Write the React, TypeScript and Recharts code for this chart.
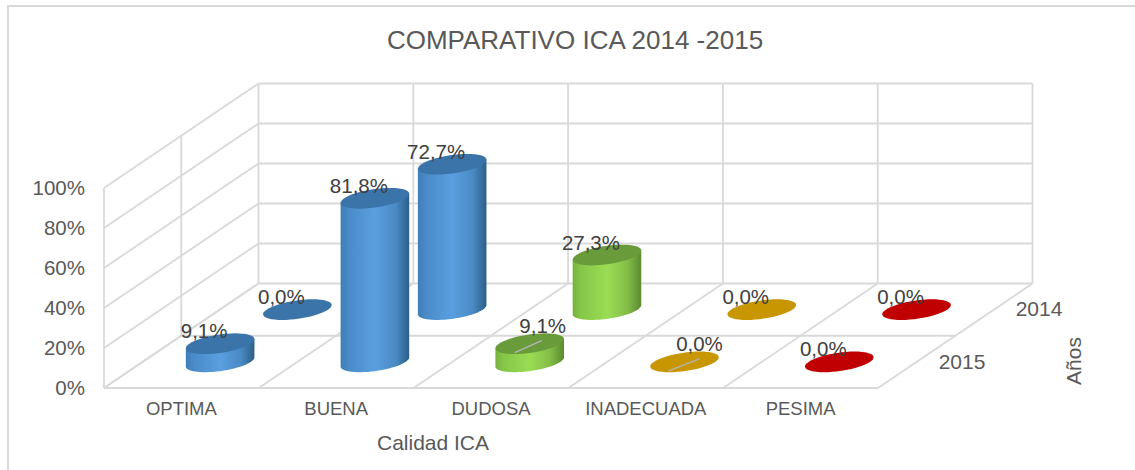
import React from 'react';
import { BarChart, Bar, XAxis, YAxis, CartesianGrid, LabelList, Customized } from 'recharts';

const categories = ['OPTIMA', 'BUENA', 'DUDOSA', 'INADECUADA', 'PESIMA'];
const values2015 = [9.1, 81.8, 9.1, 0, 0];
const values2014 = [0, 72.7, 27.3, 0, 0];
const yTicks = [0, 20, 40, 60, 80, 100];
const sideGradients = ['sideBlue', 'sideBlue', 'sideGreen', 'sideGold', 'sideRed'];
const topColors = ['#3b74a9', '#3b74a9', '#6a9b3b', '#c79600', '#c00000'];

const data = categories.map((category, i) => ({ category, y2015: values2015[i], y2014: values2014[i] }));

const W = 1135;
const H = 470;
const MARGIN = { top: 188, right: 257, bottom: 52, left: 44 };
const X_AXIS_H = 30;
const Y_AXIS_W = 60;
const BOTTOM = H - MARGIN.bottom - X_AXIS_H;
const DEPTH_X = 154.5;
const DEPTH_Y = -104.5;
const GRID = '#d9d9d9';
const TEXT = '#595959';
const LABEL = '#404040';
const FONT = '"Liberation Sans", Arial, sans-serif';

const ROW_FRONT = 0.25;
const ROW_BACK = 0.75;

// half-axes of the elliptical cross-section
const HALF_W = 34.3;
const HALF_H = 10.35;
const SKEW = (HALF_H * DEPTH_X) / -DEPTH_Y;
const UX = Math.sqrt(HALF_W * HALF_W - SKEW * SKEW);
const pt = (cx: number, cy: number, t: number) =>
  `${(cx + UX * Math.cos(t) + SKEW * Math.sin(t)).toFixed(2)} ${(cy - HALF_H * Math.sin(t)).toFixed(2)}`;
const T0 = Math.atan2(SKEW, UX);

function ellipsePath(cx: number, cy: number) {
  const p: string[] = [];
  for (let i = 0; i < 48; i++) p.push(pt(cx, cy, (i / 48) * 2 * Math.PI));
  return `M${p.join('L')}Z`;
}
function sidePath(cx: number, topY: number, baseY: number) {
  const p: string[] = [];
  for (let i = 0; i <= 30; i++) p.push(pt(cx, baseY, T0 - (i / 30) * Math.PI));
  return `M${pt(cx, topY, T0)}L${p.join('L')}L${pt(cx, topY, T0 + Math.PI)}Z`;
}

const leaderLines2015: Record<string, [number, number, number, number]> = {
  DUDOSA: [-15, 9, 12, -3],
  INADECUADA: [-16, 9, 15, -3],
};
const labelShift2015: Record<string, [number, number]> = {
  DUDOSA: [13, -18],
  INADECUADA: [15, -18],
};

function Cylinder(props: any, row: number, leaders: boolean) {
  const { x, y, width, height, index } = props;
  const cx = x + width / 2 + DEPTH_X * row;
  const topY = y + DEPTH_Y * row;
  const baseY = y + height + DEPTH_Y * row;
  const name = categories[index];
  const leader = leaders ? leaderLines2015[name] : undefined;
  return (
    <g>
      {height > 0.5 && <path d={sidePath(cx, topY, baseY)} fill={`url(#${sideGradients[index]})`} />}
      <path d={ellipsePath(cx, topY)} fill={topColors[index]} />
      {leader && (
        <line
          x1={cx + leader[0]}
          y1={topY + leader[1]}
          x2={cx + leader[2]}
          y2={topY + leader[3]}
          stroke="#b4b4b4"
          strokeWidth={1.5}
        />
      )}
    </g>
  );
}

function ValueLabel(props: any, row: number, shifts: Record<string, [number, number]>) {
  const { x, y, width, value, index } = props;
  const s = shifts[categories[index]] || [-16, -13];
  return (
    <text
      x={x + width / 2 + DEPTH_X * row + s[0]}
      y={y + DEPTH_Y * row + s[1]}
      textAnchor="middle"
      dominantBaseline="central"
      fontFamily={FONT}
      fontSize={20.5}
      fill={LABEL}
    >
      {`${Number(value).toFixed(1).replace('.', ',')}%`}
    </text>
  );
}

function gridHorizontal(p: any) {
  const { x1, x2, y1 } = p;
  const isFloor = Math.abs(y1 - BOTTOM) < 1;
  return (
    <g key={`h${y1}`} stroke={GRID} strokeWidth={1.8} fill="none">
      <line x1={x1} y1={y1} x2={x1 + DEPTH_X} y2={y1 + DEPTH_Y} />
      <line x1={x1 + DEPTH_X} y1={y1 + DEPTH_Y} x2={x2 + DEPTH_X} y2={y1 + DEPTH_Y} />
      {isFloor && <line x1={x1} y1={y1} x2={x2} y2={y1} />}
      {isFloor && (
        <line x1={x1 + DEPTH_X / 2} y1={y1 + DEPTH_Y / 2} x2={x2 + DEPTH_X / 2} y2={y1 + DEPTH_Y / 2} />
      )}
    </g>
  );
}

function gridVertical(p: any) {
  const { x1, y1, y2 } = p;
  const isLeft = Math.abs(x1 - (MARGIN.left + Y_AXIS_W)) < 1;
  return (
    <g key={`v${x1}`} stroke={GRID} strokeWidth={1.8} fill="none">
      <line x1={x1 + DEPTH_X} y1={y1 + DEPTH_Y} x2={x1 + DEPTH_X} y2={y2 + DEPTH_Y} />
      <line x1={x1} y1={y2} x2={x1 + DEPTH_X} y2={y2 + DEPTH_Y} />
      {isLeft && <line x1={x1} y1={y1} x2={x1} y2={y2} />}
      {isLeft && (
        <line x1={x1 + DEPTH_X / 2} y1={y1 + DEPTH_Y / 2} x2={x1 + DEPTH_X / 2} y2={y2 + DEPTH_Y / 2} />
      )}
    </g>
  );
}

const Texts = () => (
  <g fontFamily={FONT} fill={TEXT}>
    <path d="M8 470V6H1135" fill="none" stroke={GRID} strokeWidth={2} />
    <text x={575} y={40} fontSize={26} textAnchor="middle" dominantBaseline="central">
      COMPARATIVO ICA 2014 -2015
    </text>
    <text x={433} y={442} fontSize={21} textAnchor="middle" dominantBaseline="central">
      Calidad ICA
    </text>
    <text x={1039} y={308} fontSize={21} textAnchor="middle" dominantBaseline="central">
      2014
    </text>
    <text x={962} y={361} fontSize={21} textAnchor="middle" dominantBaseline="central">
      2015
    </text>
    <text
      x={1073}
      y={361}
      fontSize={21}
      textAnchor="middle"
      dominantBaseline="central"
      transform="rotate(-90 1073 361)"
    >
      Años
    </text>
  </g>
);

function Grad({ id, stops }: { id: string; stops: [string, string][] }) {
  return (
    <linearGradient id={id} x1="0" y1="0" x2="1" y2="0">
      {stops.map(([o, c]) => (
        <stop key={o} offset={o} stopColor={c} />
      ))}
    </linearGradient>
  );
}

export default function App() {
  return (
    <div style={{ position: 'absolute', left: 0, top: 0, width: W, height: H, background: '#fff' }}>
      <BarChart width={W} height={H} data={data} margin={MARGIN}>
        <defs>
          <Grad id="sideBlue" stops={[['0', '#3f7db6'], ['0.12', '#4a8bc8'], ['0.5', '#5b9fe0'], ['0.8', '#4a8ac4'], ['1', '#2c5f88']]} />
          <Grad id="sideGreen" stops={[['0', '#78b23f'], ['0.12', '#86c648'], ['0.5', '#9bdc55'], ['0.8', '#82bd46'], ['1', '#5b8a30']]} />
          <Grad id="sideGold" stops={[['0', '#c79600'], ['1', '#c79600']]} />
          <Grad id="sideRed" stops={[['0', '#c00000'], ['1', '#c00000']]} />
        </defs>
        <CartesianGrid
          horizontal={gridHorizontal as any}
          vertical={gridVertical as any}
          verticalCoordinatesGenerator={({ offset }: any) =>
            [0, 1, 2, 3, 4, 5].map((i) => offset.left + (i * offset.width) / categories.length)
          }
        />
        <XAxis
          dataKey="category"
          height={X_AXIS_H}
          axisLine={false}
          tickLine={false}
          tickSize={0}
          tickMargin={14}
          interval={0}
          tick={{ fontFamily: FONT, fontSize: 18.5, fill: TEXT }}
        />
        <XAxis xAxisId="back" dataKey="category" hide />
        <YAxis
          domain={[0, 100]}
          ticks={yTicks}
          width={Y_AXIS_W}
          axisLine={false}
          tickLine={false}
          tickSize={0}
          tickMargin={19}
          tickFormatter={(v: number) => `${v}%`}
          tick={{ fontFamily: FONT, fontSize: 20.5, fill: TEXT }}
        />
        <Bar
          xAxisId="back"
          dataKey="y2014"
          isAnimationActive={false}
          shape={(p: any) => Cylinder(p, ROW_BACK, false)}
        >
          <LabelList dataKey="y2014" content={(p: any) => ValueLabel(p, ROW_BACK, {})} />
        </Bar>
        <Bar dataKey="y2015" isAnimationActive={false} shape={(p: any) => Cylinder(p, ROW_FRONT, true)}>
          <LabelList dataKey="y2015" content={(p: any) => ValueLabel(p, ROW_FRONT, labelShift2015)} />
        </Bar>
        <Customized component={Texts} />
      </BarChart>
    </div>
  );
}
